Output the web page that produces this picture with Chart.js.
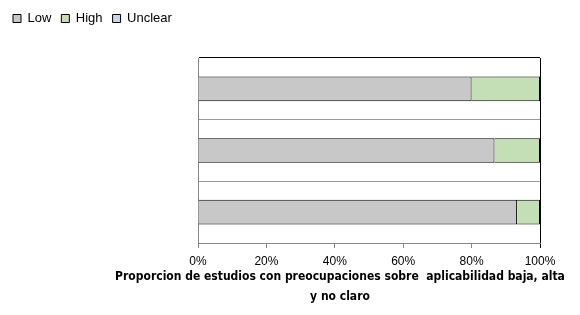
<!DOCTYPE html>
<html>
<head>
<meta charset="utf-8">
<script src="https://cdn.jsdelivr.net/npm/chart.js@4"></script>
<style>
  html, body { margin: 0; padding: 0; background: #fff; }
  #wrap { width: 580px; height: 315px; }
</style>
</head>
<body>
<div id="wrap"><canvas id="myChart" width="580" height="315"></canvas></div>
<script>
// datos
var categories = ['', '', ''];
var lowValues = [80, 86.7, 93.3];
var highValues = [20, 13.3, 6.7];
var unclearValues = [0, 0, 0];
var xTicks = [0, 20, 40, 60, 80, 100];
var axisTitle = ['Proporcion de estudios con preocupaciones sobre  aplicabilidad baja, alta', 'y no claro'];

// mas espacio debajo de la leyenda
var legendGap = {
    id: 'legendGap',
    beforeInit: function (chart) {
        var fit = chart.legend.fit;
        chart.legend.fit = function () {
            fit.bind(chart.legend)();
            this.height += 23;
        };
    }
};

// titulo del eje x: en Excel es mas ancho que el area del grafico
var bottomTitle = {
    id: 'bottomTitle',
    afterDraw: function (chart) {
        var c = chart.ctx;
        var cx = 340;
        c.save();
        c.fillStyle = '#000';
        c.textAlign = 'center';
        c.textBaseline = 'middle';
        c.font = "bold 12px 'DejaVu Sans Condensed', sans-serif";
        axisTitle.forEach(function (line, i) {
            c.fillText(line, cx, 277 + i * 20);
        });
        c.restore();
    }
};

var ctx = document.getElementById('myChart').getContext('2d');
var myChart = new Chart(ctx, {
    type: 'bar',
    data: {
        labels: categories,
        datasets: [{
            label: 'Low',
            data: lowValues,
            backgroundColor: '#c8c8c8',
            borderColor: '#000',
            borderWidth: 1
        }, {
            label: 'High',
            data: highValues,
            backgroundColor: '#c4dfb5',
            borderColor: '#000',
            borderWidth: 1
        }, {
            label: 'Unclear',
            data: unclearValues,
            backgroundColor: '#c5d6ea',
            borderColor: '#000',
            borderWidth: 1
        }]
    },
    options: {
        indexAxis: 'y',
        responsive: false,
        animation: false,
        barPercentage: 0.4,
        categoryPercentage: 1,
        layout: { padding: { left: 3, right: 40, top: 2, bottom: 0 } },
        scales: {
            x: {
                stacked: true,
                min: 0,
                max: 100,
                afterBuildTicks: function (scale) {
                    scale.ticks = xTicks.map(function (v) { return { value: v }; });
                },
                afterFit: function (scale) { scale.height = 72; },
                ticks: {
                    padding: 6,
                    color: '#000',
                    font: { family: "'Liberation Sans', sans-serif", size: 12 },
                    callback: function (v) { return v + '%'; }
                },
                grid: {
                    drawOnChartArea: true,
                    color: function (c) { return c.tick && c.tick.value === 100 ? '#000' : 'rgba(0,0,0,0)'; },
                    tickColor: function (c) { return c.tick && c.tick.value === 100 ? '#000' : '#888'; },
                    tickLength: 5
                },
                border: { color: '#888' }
            },
            y: {
                stacked: true,
                afterFit: function (scale) { scale.width = 195; },
                ticks: { display: false },
                grid: {
                    drawTicks: false,
                    color: function (c) { return c.index === 0 ? '#000' : '#999'; }
                },
                border: { color: '#888' }
            }
        },
        plugins: {
            legend: {
                position: 'top',
                align: 'start',
                labels: {
                    boxWidth: 8,
                    boxHeight: 8,
                    padding: 10,
                    color: '#000',
                    font: { family: "'Liberation Sans', sans-serif", size: 13 }
                }
            },
            tooltip: { enabled: false }
        }
    },
    plugins: [legendGap, bottomTitle]
});
</script>
</body>
</html>
